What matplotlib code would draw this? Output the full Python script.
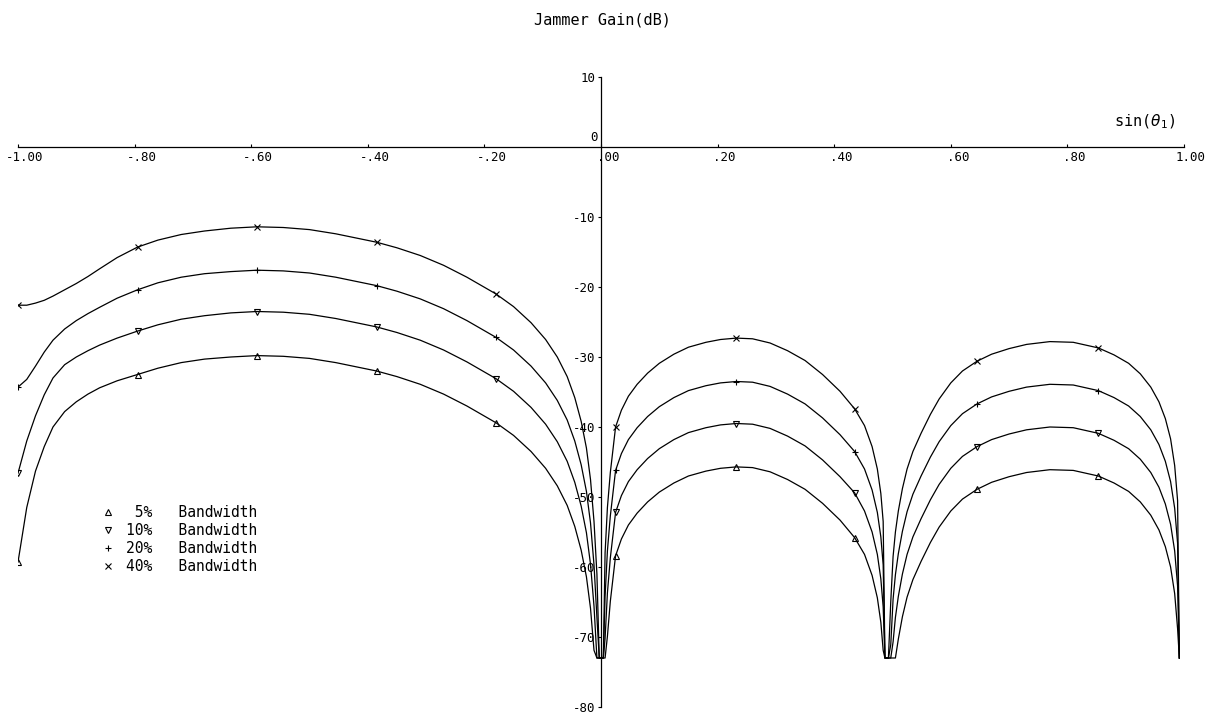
import numpy as np
import matplotlib.pyplot as plt
from matplotlib.transforms import ScaledTranslation

# sin(theta_1) samples for the three lobes
x_left = [-1.0, -0.985, -0.97, -0.955, -0.94, -0.92, -0.9, -0.88, -0.86, -0.83,
          -0.795, -0.76, -0.72, -0.68, -0.635, -0.59, -0.545, -0.5, -0.455, -0.42,
          -0.385, -0.35, -0.31, -0.27, -0.23, -0.18, -0.15, -0.12, -0.095, -0.075,
          -0.058, -0.045, -0.034, -0.025, -0.018, -0.012, -0.007, -0.003]
x_mid = [0.004, 0.007, 0.011, 0.016, 0.025, 0.035, 0.047, 0.062, 0.08, 0.1,
         0.125, 0.15, 0.18, 0.205, 0.232, 0.26, 0.29, 0.32, 0.35, 0.38,
         0.41, 0.435, 0.452, 0.465, 0.474, 0.48, 0.484, 0.487]
x_right = [0.493, 0.497, 0.501, 0.505, 0.51, 0.517, 0.525, 0.535, 0.549, 0.565,
           0.58, 0.6, 0.62, 0.645, 0.67, 0.7, 0.73, 0.77, 0.81, 0.853,
           0.88, 0.905, 0.925, 0.943, 0.957, 0.968, 0.977, 0.984, 0.989, 0.992]

# jammer gain (dB), clipped at -73 in the nulls
gain_40 = ([-22.6, -22.6, -22.3, -21.9, -21.3, -20.4, -19.5, -18.5, -17.4, -15.8,
            -14.3, -13.3, -12.5, -12.0, -11.6, -11.4, -11.5, -11.8, -12.4, -13.0,
            -13.6, -14.4, -15.5, -16.9, -18.6, -21.0, -22.8, -25.1, -27.5, -30.0,
            -32.8, -35.8, -39.2, -43.0, -47.5, -53.5, -61.0, -73]
           + [-73, -58, -51.5, -46.5, -40.0, -37.6, -35.6, -33.9, -32.3, -30.9,
              -29.6, -28.6, -27.9, -27.5, -27.3, -27.4, -28.0, -29.1, -30.5, -32.5,
              -34.9, -37.4, -39.8, -42.8, -46.0, -49.5, -53.5, -73]
           + [-73, -65, -58.5, -55.0, -52.0, -48.8, -46.0, -43.5, -40.9, -38.2,
              -36.0, -33.7, -32.0, -30.6, -29.6, -28.8, -28.2, -27.8, -27.9, -28.7,
              -29.7, -30.9, -32.4, -34.3, -36.4, -38.8, -41.7, -45.5, -50.5, -73])
gain_20 = ([-34.3, -33.2, -31.3, -29.3, -27.6, -26.0, -24.8, -23.8, -22.9, -21.6,
            -20.4, -19.4, -18.6, -18.1, -17.8, -17.6, -17.7, -18.0, -18.6, -19.2,
            -19.8, -20.6, -21.7, -23.1, -24.8, -27.2, -29.0, -31.3, -33.7, -36.2,
            -39.0, -42.0, -45.4, -49.2, -53.7, -59.7, -67.2, -73]
           + [-73, -64.2, -57.7, -52.7, -46.2, -43.8, -41.8, -40.1, -38.5, -37.1,
              -35.8, -34.8, -34.1, -33.7, -33.5, -33.6, -34.2, -35.3, -36.7, -38.7,
              -41.1, -43.5, -46.0, -49.0, -52.2, -55.7, -59.7, -73]
           + [-73, -71.1, -64.6, -61.1, -58.1, -54.9, -52.1, -49.6, -47.0, -44.3,
              -42.1, -39.8, -38.1, -36.7, -35.7, -34.9, -34.3, -33.9, -34.0, -34.8,
              -35.8, -37.0, -38.5, -40.4, -42.5, -44.9, -47.8, -51.6, -56.6, -73])
gain_10 = ([-46.6, -42.0, -38.4, -35.4, -33.0, -31.1, -30.0, -29.1, -28.3, -27.3,
            -26.3, -25.4, -24.6, -24.1, -23.7, -23.5, -23.6, -23.9, -24.5, -25.1,
            -25.7, -26.5, -27.6, -29.0, -30.7, -33.1, -34.9, -37.2, -39.6, -42.1,
            -44.9, -47.9, -51.3, -55.1, -59.6, -65.6, -73, -73]
           + [-73, -70.2, -63.7, -58.7, -52.2, -49.8, -47.8, -46.1, -44.5, -43.1,
              -41.8, -40.8, -40.1, -39.7, -39.5, -39.6, -40.2, -41.3, -42.7, -44.7,
              -47.1, -49.4, -52.0, -55.0, -58.2, -61.7, -65.7, -73]
           + [-73, -73, -70.7, -67.2, -64.2, -61.0, -58.2, -55.7, -53.1, -50.4,
              -48.2, -45.9, -44.2, -42.8, -41.8, -41.0, -40.4, -40.0, -40.1, -40.9,
              -41.9, -43.1, -44.6, -46.5, -48.6, -51.0, -53.9, -57.7, -62.7, -73])
gain_5 = ([-59.3, -51.5, -46.3, -42.8, -40.0, -37.8, -36.4, -35.3, -34.4, -33.4,
           -32.5, -31.6, -30.8, -30.3, -30.0, -29.8, -29.9, -30.2, -30.8, -31.4,
           -32.0, -32.8, -33.9, -35.3, -37.0, -39.4, -41.2, -43.5, -45.9, -48.4,
           -51.2, -54.2, -57.6, -61.4, -65.9, -71.9, -73, -73]
          + [-73, -73, -69.9, -64.9, -58.4, -56.0, -54.0, -52.3, -50.7, -49.3,
             -48.0, -47.0, -46.3, -45.9, -45.7, -45.8, -46.4, -47.5, -48.9, -50.9,
             -53.3, -55.8, -58.2, -61.2, -64.4, -67.9, -71.9, -73]
          + [-73, -73, -73, -73, -70.3, -67.1, -64.3, -61.8, -59.2, -56.5,
             -54.3, -52.0, -50.3, -48.9, -47.9, -47.1, -46.5, -46.1, -46.2, -47.0,
             -48.0, -49.2, -50.7, -52.6, -54.7, -57.1, -60.0, -63.8, -68.8, -73])

marker_x = [-1.0, -0.795, -0.59, -0.385, -0.18, 0.025, 0.232, 0.435, 0.645, 0.853]

series = [('5%', gain_5, '^'), ('10%', gain_10, 'v'),
          ('20%', gain_20, '+'), ('40%', gain_40, 'x')]

xticks = [-1.0, -0.8, -0.6, -0.4, -0.2, 0.0, 0.2, 0.4, 0.6, 0.8, 1.0]
xtick_labels = ['-1.00', '-.80', '-.60', '-.40', '-.20', '.00',
                '.20', '.40', '.60', '.80', '1.00']
yticks = [10, -10, -20, -30, -40, -50, -60, -70, -80]

mono = 'DejaVu Sans Mono'

x_all = np.array(x_left + x_mid + x_right)
marks = [int(np.argmin(np.abs(x_all - m))) for m in marker_x]

fig = plt.figure(figsize=(12.29, 7.18), dpi=100)
ax = fig.add_axes([18 / 1229, 11 / 718, 1166 / 1229, 630 / 718])
ax.set_xlim(-1.0, 1.0)
ax.set_ylim(-80, 10)

handles = []
for name, g, mk in series:
    ax.plot(x_all, g, color='black', lw=0.9, marker=mk, markevery=marks,
            ms=4.5, mew=0.8, mfc='none', mec='black')
    h, = ax.plot([], [], ls='none', marker=mk, ms=4.5, mew=0.8,
                 mfc='none', mec='black')
    handles.append((h, '%3s   Bandwidth' % name))

for s in ['top', 'right']:
    ax.spines[s].set_visible(False)
ax.spines['left'].set_position(('data', 0))
ax.spines['bottom'].set_position(('data', 0))
ax.spines['left'].set_bounds(-80, 10)
ax.spines['bottom'].set_bounds(-1, 1)
for s in ['left', 'bottom']:
    ax.spines[s].set_linewidth(0.9)

ax.set_xticks(xticks)
ax.set_xticklabels(xtick_labels, family=mono, fontsize=9)
ax.set_yticks(yticks)
ax.set_yticklabels([str(v) for v in yticks], family=mono, fontsize=9)
ax.tick_params(axis='x', direction='in', length=2, pad=3)
ax.tick_params(axis='y', direction='out', length=2, pad=2)
shift = ScaledTranslation(7 / 100, 0, fig.dpi_scale_trans)
for lbl in ax.get_xticklabels():
    lbl.set_transform(lbl.get_transform() + shift)
ax.text(-0.006, 0.4, '0', family=mono, fontsize=9, ha='right', va='bottom')

fig.text(602 / 1229, 1 - 20 / 718, 'Jammer Gain(dB)', family=mono,
         fontsize=11, ha='center', va='center')
fig.text(1175 / 1229, 1 - 122 / 718, r'sin($\theta_1$)', family=mono,
         fontsize=11, ha='right', va='center')

ax.legend([h for h, _ in handles], [t for _, t in handles], loc='upper left',
          bbox_to_anchor=(95 / 1229, 1 - 498 / 718), bbox_transform=fig.transFigure,
          frameon=False, prop={'family': mono, 'size': 10.5}, handlelength=0.8,
          handletextpad=0.8, labelspacing=0.2, borderpad=0)

fig.savefig('out.png', dpi=100)
